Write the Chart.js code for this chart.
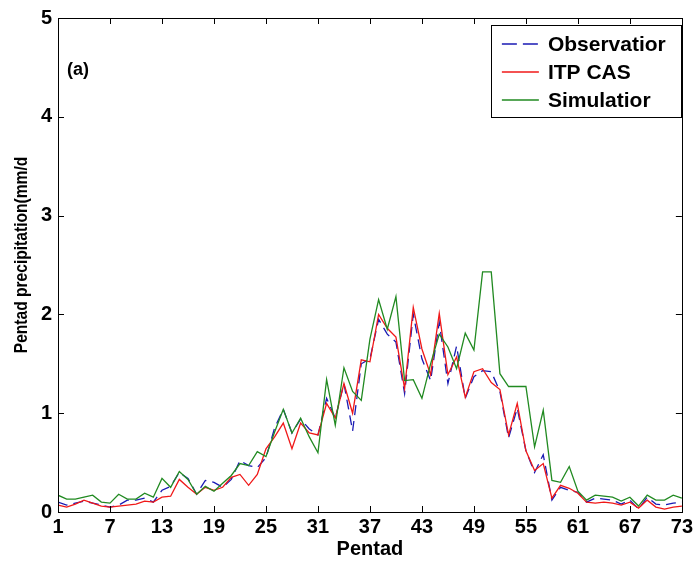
<!DOCTYPE html>
<html>
<head>
<meta charset="utf-8">
<script src="https://cdn.jsdelivr.net/npm/chart.js@4/dist/chart.umd.min.js"></script>
<style>
  html, body { margin: 0; padding: 0; background: #ffffff; }
  #wrap { width: 696px; height: 567px; position: relative; }
</style>
</head>
<body>
<div id="wrap"><canvas id="c" width="696" height="567"></canvas></div>
<script>
const pentads = Array.from({length: 73}, (_, i) => i + 1);
const xTicks = [1, 7, 13, 19, 25, 31, 37, 43, 49, 55, 61, 67, 73];
const yTicks = [0, 1, 2, 3, 4, 5];
const seriesNames = ['Observatior', 'ITP CAS', 'Simulatior'];
const yTitle = 'Pentad precipitation(mm/d';
const xTitle = 'Pentad';
const panelLabel = '(a)';

const observation = [
  0.10, 0.07, 0.09, 0.11, 0.09, 0.07, 0.05, 0.07, 0.12, 0.12,
  0.14, 0.10, 0.22, 0.26, 0.40, 0.34, 0.18, 0.32, 0.30, 0.25,
  0.33, 0.52, 0.47, 0.45, 0.55, 0.85, 1.04, 0.80, 0.94, 0.84,
  0.78, 1.15, 0.95, 1.30, 0.82, 1.50, 1.55, 1.95, 1.80, 1.72,
  1.20, 2.00, 1.55, 1.33, 1.92, 1.30, 1.68, 1.15, 1.37, 1.43,
  1.42, 1.22, 0.75, 1.05, 0.62, 0.40, 0.58, 0.12, 0.25, 0.22,
  0.20, 0.10, 0.14, 0.13, 0.12, 0.08, 0.12, 0.03, 0.15, 0.08,
  0.07, 0.09, 0.10
];
const itpCas = [
  0.07, 0.05, 0.08, 0.12, 0.09, 0.06, 0.05, 0.06, 0.07, 0.08,
  0.11, 0.10, 0.15, 0.16, 0.33, 0.25, 0.18, 0.25, 0.22, 0.25,
  0.35, 0.38, 0.27, 0.38, 0.64, 0.76, 0.90, 0.64, 0.90, 0.80,
  0.78, 1.10, 0.95, 1.30, 1.00, 1.54, 1.52, 2.00, 1.86, 1.77,
  1.25, 2.07, 1.65, 1.39, 2.01, 1.39, 1.57, 1.16, 1.42, 1.45,
  1.31, 1.24, 0.78, 1.10, 0.62, 0.42, 0.49, 0.14, 0.27, 0.24,
  0.19, 0.10, 0.09, 0.10, 0.09, 0.07, 0.10, 0.04, 0.12, 0.05,
  0.03, 0.05, 0.06
];
const simulation = [
  0.17, 0.13, 0.13, 0.15, 0.17, 0.10, 0.09, 0.18, 0.13, 0.13,
  0.19, 0.15, 0.34, 0.25, 0.41, 0.33, 0.18, 0.26, 0.21, 0.29,
  0.37, 0.49, 0.47, 0.61, 0.56, 0.81, 1.04, 0.80, 0.95, 0.76,
  0.60, 1.34, 0.88, 1.46, 1.22, 1.13, 1.75, 2.15, 1.85, 2.18,
  1.33, 1.34, 1.15, 1.50, 1.80, 1.67, 1.45, 1.81, 1.64, 2.43,
  2.43, 1.40, 1.27, 1.27, 1.27, 0.66, 1.03, 0.32, 0.30, 0.46,
  0.21, 0.12, 0.17, 0.16, 0.15, 0.11, 0.15, 0.06, 0.17, 0.12,
  0.12, 0.17, 0.14
];

const FONT = '"Liberation Sans", Arial, Helvetica, sans-serif';
const toXY = arr => pentads.map((p, i) => ({x: p, y: arr[i]}));

const framePlugin = {
  id: 'frame',
  afterDatasetsDraw(chart) {
    const {ctx, chartArea: a, scales} = chart;
    ctx.save();
    ctx.strokeStyle = '#000';
    ctx.lineWidth = 1;
    ctx.strokeRect(Math.round(a.left) + 0.5, Math.round(a.top) + 0.5,
                   Math.round(a.right - a.left), Math.round(a.bottom - a.top));
    const tl = 6;
    ctx.beginPath();
    xTicks.forEach(v => {
      const px = Math.round(scales.x.getPixelForValue(v)) + 0.5;
      ctx.moveTo(px, a.bottom); ctx.lineTo(px, a.bottom - tl);
      ctx.moveTo(px, a.top); ctx.lineTo(px, a.top + tl);
    });
    yTicks.forEach(v => {
      const py = Math.round(scales.y.getPixelForValue(v)) + 0.5;
      ctx.moveTo(a.left, py); ctx.lineTo(a.left + tl, py);
      ctx.moveTo(a.right, py); ctx.lineTo(a.right - tl, py);
    });
    ctx.stroke();
    // panel label
    ctx.fillStyle = '#000';
    ctx.font = 'bold 18px ' + FONT;
    ctx.textBaseline = 'middle';
    ctx.textAlign = 'left';
    ctx.fillText(panelLabel, a.left + 9, a.top + 52);
    // y-axis title (slightly condensed along its length, as in the reference)
    ctx.save();
    ctx.translate(22, (a.top + a.bottom) / 2 - 10);
    ctx.rotate(-Math.PI / 2);
    ctx.scale(0.82, 1);
    ctx.font = 'bold 19px ' + FONT;
    ctx.textAlign = 'center';
    ctx.textBaseline = 'middle';
    ctx.fillText(yTitle, 0, 0);
    ctx.restore();
    ctx.restore();
  },
  afterDraw(chart) {
    const {ctx, chartArea: a} = chart;
    const bw = 190, bh = 92;
    const bx = a.right - bw - 1, by = a.top + 7;
    ctx.save();
    ctx.fillStyle = '#fff';
    ctx.fillRect(bx, by, bw, bh);
    ctx.strokeStyle = '#000';
    ctx.lineWidth = 1;
    ctx.strokeRect(Math.round(bx) + 0.5, Math.round(by) + 0.5, bw, bh);
    ctx.font = 'bold 21px ' + FONT;
    ctx.textBaseline = 'middle';
    ctx.textAlign = 'left';
    chart.data.datasets.forEach((ds, i) => {
      const cy = by + 19 + i * 28;
      ctx.strokeStyle = ds.borderColor;
      ctx.lineWidth = 1.3;
      ctx.setLineDash(ds.borderDash ? [15, 6] : []);
      ctx.beginPath();
      ctx.moveTo(bx + 11, cy);
      ctx.lineTo(bx + 48, cy);
      ctx.stroke();
      ctx.setLineDash([]);
      ctx.fillStyle = '#000';
      ctx.fillText(ds.label, bx + 57, cy + 1);
    });
    ctx.restore();
  }
};

new Chart(document.getElementById('c'), {
  type: 'line',
  data: {
    datasets: [
      {label: seriesNames[0], data: toXY(observation), borderColor: '#1a1ab4',
       borderDash: [10, 6], borderWidth: 1.3, pointRadius: 0, fill: false, order: 3},
      {label: seriesNames[1], data: toXY(itpCas), borderColor: '#f01818',
       borderWidth: 1.3, pointRadius: 0, fill: false, order: 2},
      {label: seriesNames[2], data: toXY(simulation), borderColor: '#218a21',
       borderWidth: 1.3, pointRadius: 0, fill: false, order: 1}
    ]
  },
  options: {
    responsive: false,
    animation: false,
    layout: {padding: {left: 0, right: 13, top: 18, bottom: 0}},
    plugins: {legend: {display: false}, tooltip: {enabled: false}},
    scales: {
      x: {
        type: 'linear', min: 1, max: 73,
        afterBuildTicks: s => { s.ticks = xTicks.map(v => ({value: v})); },
        afterFit: s => { s.height = 55; },
        grid: {display: false, drawTicks: false},
        border: {display: false},
        ticks: {color: '#000', padding: 3, maxRotation: 0, autoSkip: false,
                font: {family: FONT, size: 20, weight: 'bold'}},
        title: {display: true, text: xTitle, color: '#000',
                padding: {top: 0, bottom: 6},
                font: {family: FONT, size: 20, weight: 'bold'}}
      },
      y: {
        min: 0, max: 5,
        afterBuildTicks: s => { s.ticks = yTicks.map(v => ({value: v})); },
        afterFit: s => { s.width = 58; },
        grid: {display: false, drawTicks: false},
        border: {display: false},
        ticks: {color: '#000', padding: 6,
                font: {family: FONT, size: 20, weight: 'bold'}},
        title: {display: false}
      }
    }
  },
  plugins: [framePlugin]
});
</script>
</body>
</html>
